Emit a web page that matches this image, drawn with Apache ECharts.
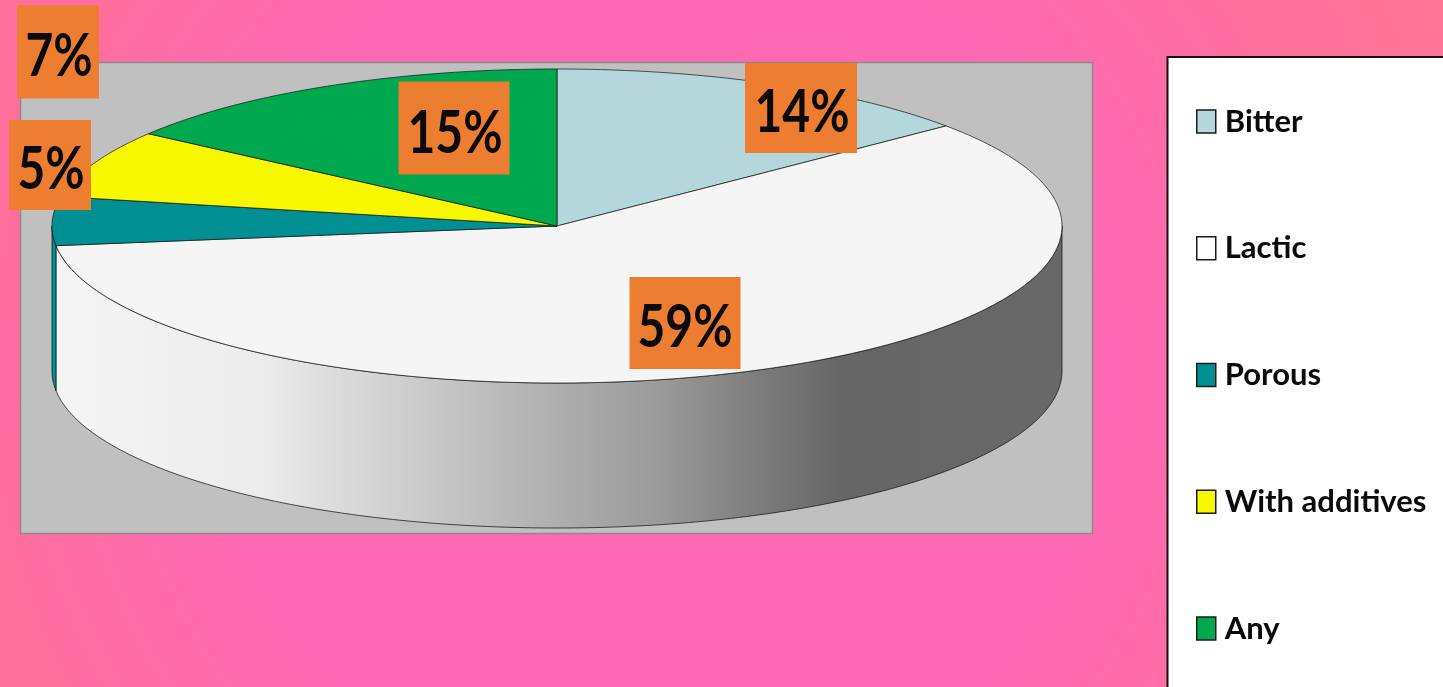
<!DOCTYPE html>
<html>
<head>
<meta charset="utf-8">
<style>html,body{margin:0;padding:0;overflow:hidden}#chart{width:1443px;height:687px}</style>
<script src="https://cdn.jsdelivr.net/npm/echarts@6/dist/echarts.min.js"></script>
</head>
<body>
<div id="chart"></div>
<script>
// Cheese defect shares, in percent, clockwise from twelve o'clock
const categories = ['Bitter', 'Lactic', 'Porous', 'With additives', 'Any'];
const shares = [14, 59, 5, 7, 15];
const sliceColors = ['#b4d7dc', '#f5f5f5', '#008f92', '#f7f700', '#00a84f'];
const wallColors = [null, 'shaded', '#008f92', null, null];

// Geometry of the tilted disc
const disc = { cx: 557, cy: 226, rx: 505, ry: 157, depth: 145 };
// Callout boxes: centre x, centre y, width, height, then text centre x, y
const callouts = [
  [801, 108, 112, 90, 802, 113],
  [685, 323, 111, 92, 685, 328],
  [50, 165, 82, 90, 51, 170],
  [58, 52, 82, 93, 59, 57],
  [454, 128, 111, 93, 455, 134]
];

const total = shares.reduce((a, b) => a + b, 0);
const starts = shares.map((_, i) => shares.slice(0, i).reduce((a, b) => a + b, 0) / total * 360);

function rimPoint(deg, drop) {
  const r = deg * Math.PI / 180;
  return [disc.cx + disc.rx * Math.sin(r), disc.cy - disc.ry * Math.cos(r) + (drop || 0)];
}
function arc(from, to, drop) {
  const pts = [];
  const n = Math.max(2, Math.ceil(Math.abs(to - from)));
  for (let k = 0; k <= n; k++) pts.push(rimPoint(from + (to - from) * k / n, drop));
  return pts;
}

const wallShade = {
  type: 'linear', x: 57, y: 0, x2: 1062, y2: 0, global: true,
  colorStops: [
    { offset: 0, color: '#f5f5f5' },
    { offset: 0.2, color: '#ececec' },
    { offset: 0.34, color: '#cfcfcf' },
    { offset: 0.49, color: '#b0b0b0' },
    { offset: 0.6, color: '#9a9a9a' },
    { offset: 0.7, color: '#7c7c7c' },
    { offset: 0.78, color: '#666666' },
    { offset: 1, color: '#686868' }
  ]
};

function sliceSeries(i) {
  const a0 = starts[i];
  const a1 = a0 + shares[i] / total * 360;
  return {
    type: 'custom',
    name: categories[i],
    coordinateSystem: 'none',
    silent: true,
    data: [shares[i]],
    renderItem: function () {
      const children = [];
      const w0 = Math.max(a0, 90);
      const w1 = Math.min(a1, 270);
      if (wallColors[i] && w1 > w0) {
        children.push({
          type: 'polygon',
          shape: { points: arc(w0, w1, 0).concat(arc(w1, w0, disc.depth)) },
          style: {
            fill: wallColors[i] === 'shaded' ? wallShade : wallColors[i],
            stroke: 'rgba(20,20,20,0.75)', lineWidth: 1
          }
        });
      }
      children.push({
        type: 'polygon',
        shape: { points: [[disc.cx, disc.cy]].concat(arc(a0, a1, 0)) },
        style: { fill: sliceColors[i], stroke: 'rgba(20,20,20,0.7)', lineWidth: 1 }
      });
      return { type: 'group', children: children };
    }
  };
}

const calloutSeries = {
  type: 'custom',
  name: 'callouts',
  coordinateSystem: 'none',
  silent: true,
  z: 5,
  data: shares,
  renderItem: function (params, api) {
    const c = callouts[params.dataIndex];
    return {
      type: 'group',
      children: [
        { type: 'rect', shape: { x: c[0] - c[2] / 2, y: c[1] - c[3] / 2, width: c[2], height: c[3] },
          style: { fill: '#ed7d31' } },
        { type: 'text', x: c[4], y: c[5], scaleX: 0.8, z2: 2,
          style: { text: api.value(0) + '%', fill: '#0a0a0a', textAlign: 'center', textVerticalAlign: 'middle',
                   font: 'bold 60px Lato' } }
      ]
    };
  }
};

const chart = echarts.init(document.getElementById('chart'));
chart.setOption({
  animation: false,
  graphic: [
    { type: 'rect', z: -30, silent: true, shape: { x: 0, y: 0, width: 1443, height: 687 },
      style: { fill: { type: 'radial', x: 660, y: 370, r: 860, global: true, colorStops: [
        { offset: 0, color: '#ff69b4' }, { offset: 0.52, color: '#ff69b4' },
        { offset: 0.78, color: '#ff6e9e' }, { offset: 1, color: '#ff7596' } ] } } },
    { type: 'rect', z: -20, silent: true, shape: { x: 20.5, y: 62.5, width: 1072, height: 471 },
      style: { fill: '#c0c0c0', stroke: '#8a8a8a', lineWidth: 1.5 } },
    { type: 'rect', z: -20, silent: true, shape: { x: 1167.5, y: 57, width: 300, height: 660 },
      style: { fill: '#ffffff', stroke: '#111111', lineWidth: 2 } }
  ],
  legend: {
    orient: 'vertical',
    left: 1196,
    top: 106,
    selectedMode: false,
    icon: 'rect',
    itemWidth: 19,
    itemHeight: 23,
    itemGap: 95.75,
    padding: 0,
    textStyle: { fontFamily: 'Lato', fontWeight: 'bold', fontSize: 31, color: '#0a0a0a', padding: [0, 0, 0, 4] },
    data: categories.map((name, i) => ({
      name: name,
      itemStyle: { color: i === 1 ? '#ffffff' : sliceColors[i], borderColor: '#1a1a1a', borderWidth: 1.5 }
    }))
  },
  series: categories.map((_, i) => sliceSeries(i)).concat([calloutSeries])
});
</script>
</body>
</html>
